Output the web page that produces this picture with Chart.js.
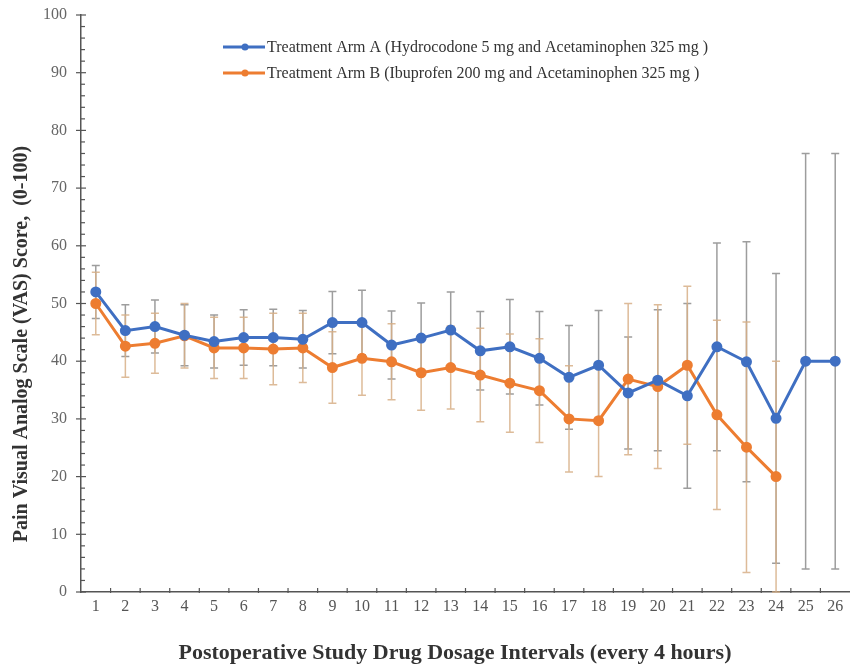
<!DOCTYPE html>
<html>
<head>
<meta charset="utf-8">
<script src="https://cdn.jsdelivr.net/npm/chart.js"></script>
<style>
  html, body { margin: 0; padding: 0; background: #fff; overflow: hidden; }
</style>
</head>
<body>
<canvas id="vasChart" width="857" height="671"></canvas>
<script>
// Dosage intervals (every 4 hours)
const intervals = ['1', '2', '3', '4', '5', '6', '7', '8', '9', '10', '11', '12', '13',
  '14', '15', '16', '17', '18', '19', '20', '21', '22', '23', '24', '25', '26'];

// Arm A: Hydrocodone 5 mg + Acetaminophen 325 mg (mean VAS and SD)
const armA = [52.0, 45.3, 46.0, 44.5, 43.4, 44.1, 44.1, 43.8, 46.7, 46.7, 42.8, 44.0, 45.4,
  41.8, 42.5, 40.5, 37.2, 39.3, 34.5, 36.7, 34.0, 42.5, 39.9, 30.1, 40.0, 40.0];
const armAErr = [4.6, 4.5, 4.6, 5.3, 4.6, 4.8, 4.9, 5.0, 5.4, 5.6, 5.9, 6.1, 6.6,
  6.8, 8.2, 8.1, 9.0, 9.5, 9.7, 12.2, 16.0, 18.0, 20.8, 25.1, 36.0, 36.0];

// Arm B: Ibuprofen 200 mg + Acetaminophen 325 mg (mean VAS and SD)
const armB = [50.0, 42.6, 43.1, 44.4, 42.3, 42.3, 42.1, 42.3, 38.9, 40.5, 39.9, 38.0, 38.9,
  37.6, 36.2, 34.9, 30.0, 29.7, 36.9, 35.6, 39.3, 30.7, 25.1, 20.0];
const armBErr = [5.4, 5.4, 5.2, 5.6, 5.3, 5.3, 6.2, 6.0, 6.2, 6.4, 6.6, 6.5, 7.2,
  8.1, 8.5, 9.0, 9.2, 9.7, 13.1, 14.2, 13.7, 16.4, 21.7, 20.0];

const yMin = 0;
const yMax = 100;
const yMajorStep = 10;
const yMinorStep = 2;

const xTitle = 'Postoperative Study Drug Dosage Intervals (every 4 hours)';
const yTitle = 'Pain Visual Analog Scale (VAS) Score,  (0-100)';

const serif = "'Liberation Serif', 'DejaVu Serif', serif";

// vertical error bars with caps, drawn behind the lines
const errorBars = {
  id: 'errorBars',
  beforeDatasetsDraw(chart) {
    const ctx = chart.ctx;
    const yScale = chart.scales.y;
    chart.data.datasets.forEach((ds, i) => {
      const meta = chart.getDatasetMeta(i);
      ctx.save();
      ctx.strokeStyle = ds.errorColor;
      ctx.lineWidth = 1.5;
      meta.data.forEach((pt, j) => {
        const v = ds.data[j];
        const e = ds.errors[j];
        if (v == null) return;
        const top = yScale.getPixelForValue(Math.min(v + e, yMax));
        const bot = yScale.getPixelForValue(Math.max(v - e, yMin));
        ctx.beginPath();
        ctx.moveTo(pt.x, top);
        ctx.lineTo(pt.x, bot);
        ctx.moveTo(pt.x - 4, top);
        ctx.lineTo(pt.x + 4, top);
        ctx.moveTo(pt.x - 4, bot);
        ctx.lineTo(pt.x + 4, bot);
        ctx.stroke();
      });
      ctx.restore();
    });
  }
};

// Excel-like tick marks: majors cross the axis, minors point inward
const axisTicks = {
  id: 'axisTicks',
  afterDraw(chart) {
    const { ctx, chartArea, scales } = chart;
    ctx.save();
    ctx.strokeStyle = '#555';
    ctx.lineWidth = 1.2;
    scales.y.ticks.forEach(t => {
      const py = scales.y.getPixelForValue(t.value);
      const major = t.value % yMajorStep === 0;
      ctx.beginPath();
      ctx.moveTo(chartArea.left - (major ? 5 : 0), py);
      ctx.lineTo(chartArea.left + (major ? 5 : 4), py);
      ctx.stroke();
    });
    const xs = scales.x;
    for (let k = 1; k < intervals.length; k++) {
      const px = (xs.getPixelForValue(k - 1) + xs.getPixelForValue(k)) / 2;
      ctx.beginPath();
      ctx.moveTo(px, chartArea.bottom - 4);
      ctx.lineTo(px, chartArea.bottom + 1);
      ctx.stroke();
    }
    ctx.restore();
  }
};

// axis titles, placed where the original has them
const axisTitles = {
  id: 'axisTitles',
  afterDraw(chart) {
    const ctx = chart.ctx;
    ctx.save();
    ctx.fillStyle = '#333';
    ctx.textAlign = 'center';
    ctx.textBaseline = 'middle';
    ctx.font = 'bold 22px ' + serif;
    ctx.fillText(xTitle, 455, 653);
    ctx.translate(22, 344);
    ctx.rotate(-Math.PI / 2);
    ctx.font = 'bold 20px ' + serif;
    ctx.fillText(yTitle, 0, 0);
    ctx.restore();
  }
};

// legend inside the plot, line + marker then label
const insideLegend = {
  id: 'insideLegend',
  afterDraw(chart) {
    const ctx = chart.ctx;
    const x0 = 223;
    const rows = [47, 73];
    ctx.save();
    ctx.font = '16px ' + serif;
    ctx.textBaseline = 'middle';
    chart.data.datasets.forEach((ds, i) => {
      const y = rows[i];
      ctx.strokeStyle = ds.borderColor;
      ctx.lineWidth = 3;
      ctx.beginPath();
      ctx.moveTo(x0, y);
      ctx.lineTo(x0 + 42, y);
      ctx.stroke();
      ctx.fillStyle = ds.borderColor;
      ctx.beginPath();
      ctx.arc(x0 + 22, y, 3.5, 0, Math.PI * 2);
      ctx.fill();
      ctx.fillStyle = '#333';
      ctx.fillText(ds.label, x0 + 44, y + 1);
    });
    ctx.restore();
  }
};

new Chart(document.getElementById('vasChart'), {
  type: 'line',
  data: {
    labels: intervals,
    datasets: [
      {
        label: 'Treatment Arm A (Hydrocodone 5 mg and Acetaminophen 325 mg )',
        data: armA,
        errors: armAErr,
        errorColor: 'rgba(140, 140, 140, 0.85)',
        borderColor: '#3f6fc2',
        backgroundColor: '#3f6fc2',
        borderWidth: 3,
        pointRadius: 4,
        pointHoverRadius: 4,
        tension: 0
      },
      {
        label: 'Treatment Arm B (Ibuprofen 200 mg and Acetaminophen 325 mg )',
        data: armB,
        errors: armBErr,
        errorColor: 'rgba(215, 175, 135, 0.85)',
        borderColor: '#ed7d31',
        backgroundColor: '#ed7d31',
        borderWidth: 3,
        pointRadius: 4,
        pointHoverRadius: 4,
        tension: 0
      }
    ]
  },
  options: {
    responsive: false,
    animation: false,
    layout: { padding: { top: 15, right: 1, left: 0, bottom: 0 } },
    plugins: {
      legend: { display: false },
      tooltip: { enabled: false }
    },
    scales: {
      x: {
        type: 'category',
        offset: true,
        grid: { display: false, drawTicks: false },
        border: { display: true, color: '#555', width: 1.5 },
        ticks: {
          color: '#555',
          font: { family: serif, size: 16 },
          padding: 5,
          maxRotation: 0,
          autoSkip: false
        },
        afterFit(scale) {
          scale.height = 79;
          scale.paddingLeft = 0;
          scale.paddingRight = 0;
        }
      },
      y: {
        min: yMin,
        max: yMax,
        grid: { display: false, drawTicks: false },
        border: { display: true, color: '#555', width: 1.5 },
        ticks: {
          stepSize: yMinorStep,
          autoSkip: false,
          color: '#666',
          font: { family: serif, size: 16 },
          padding: 14,
          callback: v => (v % yMajorStep === 0 ? v : '')
        },
        afterFit(scale) {
          scale.width = 81;
          scale.paddingTop = 0;
          scale.paddingBottom = 0;
        }
      }
    }
  },
  plugins: [errorBars, axisTicks, axisTitles, insideLegend]
});
</script>
</body>
</html>
